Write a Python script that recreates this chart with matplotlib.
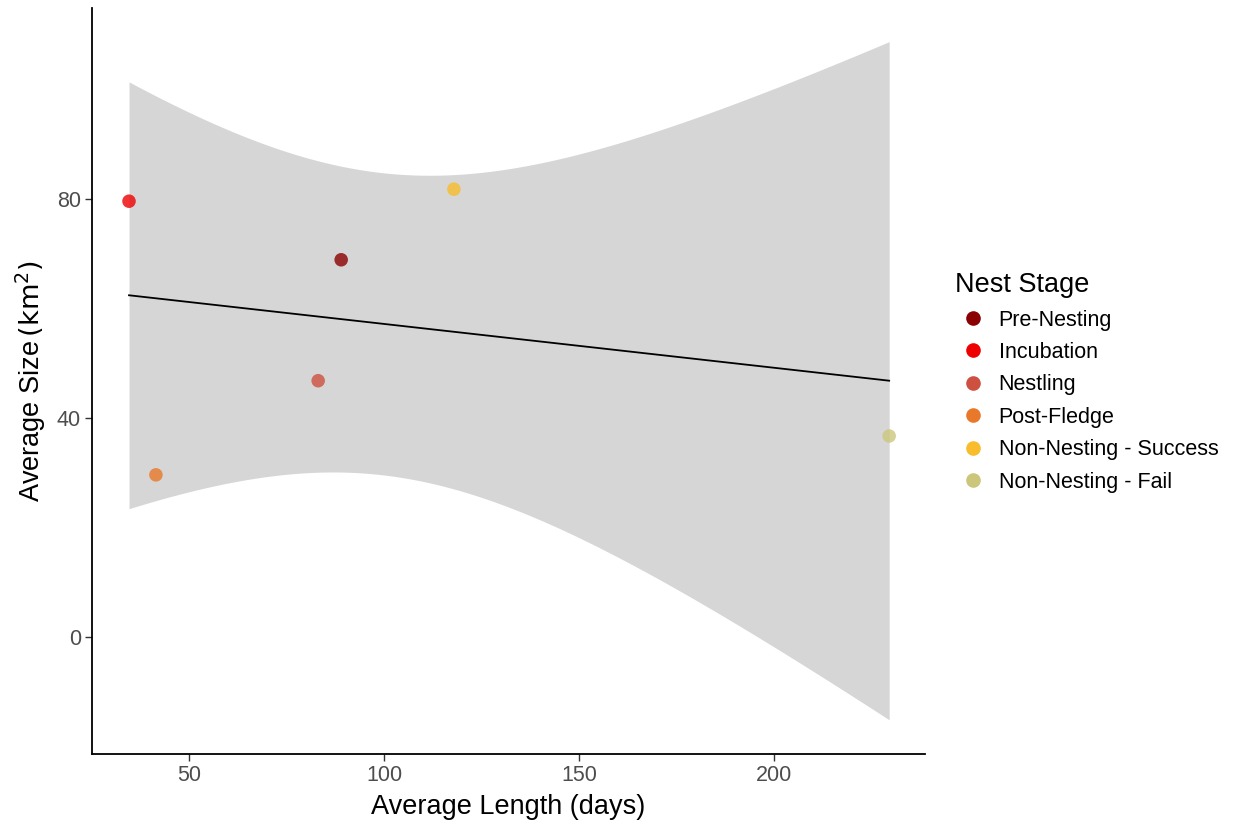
import numpy as np
import matplotlib
matplotlib.use("Agg")
import matplotlib.pyplot as plt
from matplotlib.lines import Line2D

plt.rcParams['font.family'] = ['Liberation Sans', 'DejaVu Sans']

# data
stages = ['Pre-Nesting', 'Incubation', 'Nestling', 'Post-Fledge',
          'Non-Nesting - Success', 'Non-Nesting - Fail']
avg_length = [89.0, 34.6, 83.1, 41.5, 117.9, 229.5]
avg_size = [68.9, 79.6, 46.8, 29.6, 81.8, 36.7]
stage_colors = ['#8B0000', '#EE0000', '#CD5040', '#E8782A', '#F8BC2C', '#CCC67A']

x_ticks = [50, 100, 150, 200]
y_ticks = [0, 40, 80]

# linear fit with 95% confidence band (like geom_smooth(method = "lm"))
x = np.array(avg_length)
y = np.array(avg_size)
n = len(x)
slope, intercept = np.polyfit(x, y, 1)
resid = y - (intercept + slope * x)
s = np.sqrt(np.sum(resid ** 2) / (n - 2))
t_crit = 2.776  # t(0.975, df=4)
xs = np.linspace(x.min(), x.max(), 200)
fit = intercept + slope * xs
se = s * np.sqrt(1 / n + (xs - x.mean()) ** 2 / np.sum((x - x.mean()) ** 2))

fig = plt.figure(figsize=(12.41, 8.26), dpi=100)
ax = fig.add_axes([0.0741, 0.0872, 0.6713, 0.9031])

ax.fill_between(xs, fit - t_crit * se, fit + t_crit * se, color='#999999', alpha=0.4, lw=0)
ax.plot(xs, fit, color='black', lw=1.3)
ax.scatter(x, y, c=stage_colors, s=95, alpha=0.8, edgecolors='none', zorder=3)

ax.set_xlim(25.1, 238.7)
ax.set_ylim(-21.4, 114.9)
ax.set_xticks(x_ticks)
ax.set_yticks(y_ticks)
ax.tick_params(labelsize=15.5, labelcolor='#4D4D4D', color='#333333', length=5, width=1, pad=3)
for side in ['top', 'right']:
    ax.spines[side].set_visible(False)
for side in ['left', 'bottom']:
    ax.spines[side].set_linewidth(1.3)

ax.set_xlabel('Average Length (days)', fontsize=19.5, labelpad=6)
ax.set_ylabel(r'Average Size$\,(\mathrm{km}^2)$', fontsize=19.5, labelpad=6)

handles = [Line2D([], [], marker='o', ls='', color=c, markersize=9.5) for c in stage_colors]
leg = fig.legend(handles, stages, loc='upper left', bbox_to_anchor=(0.763, 0.681),
                 frameon=False, fontsize=15.5, title='Nest Stage', title_fontsize=19.5,
                 handletextpad=0.4, handlelength=1.6, labelspacing=0.53, borderaxespad=0)
leg._legend_box.align = 'left'

fig.savefig('out.png', dpi=100)
